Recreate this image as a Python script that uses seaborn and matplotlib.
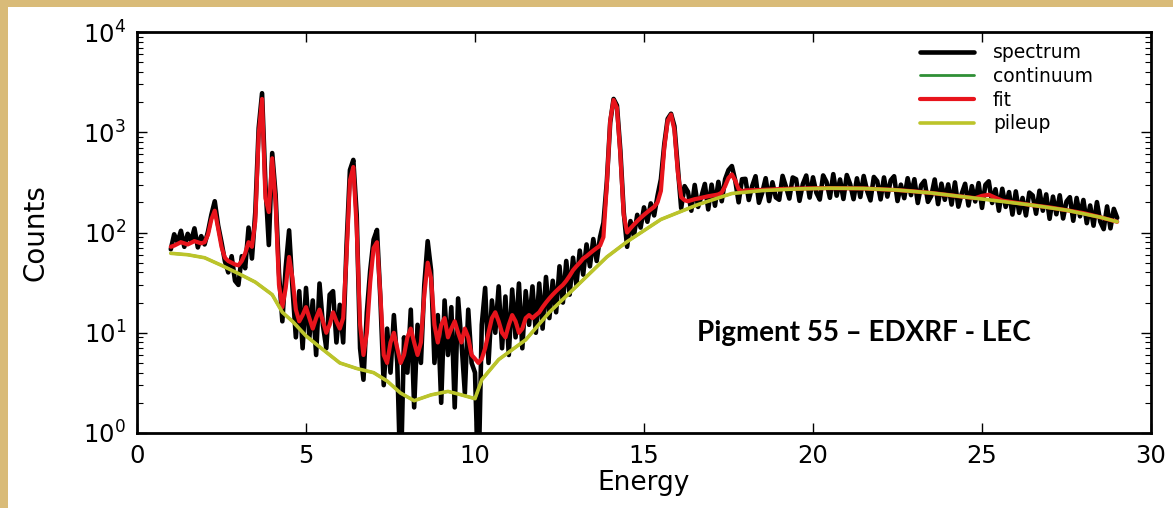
import numpy as np
import matplotlib
matplotlib.use("Agg")
import matplotlib.pyplot as plt
import seaborn as sns
from matplotlib.patches import Rectangle

# ---- measured spectrum: counts per 0.1 keV channel, 1.0 .. 29.0 keV ----
spectrum_counts = [
    68, 96, 80, 104, 72, 97, 82, 110, 71, 92,            # 1.x
    76, 102, 150, 205, 118, 80, 52, 40, 58, 33,          # 2.x
    30, 58, 44, 112, 55, 160, 1100, 2450, 300, 75,       # 3.x
    620, 240, 40, 13, 45, 105, 28, 9, 26, 7,             # 4.x
    28, 9, 21, 6, 31, 12, 7, 24, 26, 8,                  # 5.x
    19, 8, 75, 420, 530, 150, 7, 3.4, 16, 42,            # 6.x
    85, 106, 22, 3, 11, 4, 15, 5, 0.3, 9,                # 7.x
    4, 17, 1.8, 12, 5, 30, 82, 42, 5, 15,                # 8.x
    2, 21, 6, 18, 1.8, 22, 8, 2.5, 17, 5,                # 9.x
    4, 0.3, 12, 28, 5, 21, 10, 29, 7, 23,                # 10.x
    6, 27, 9, 31, 7, 26, 12, 29, 10, 31,                 # 11.x
    11, 36, 14, 33, 16, 46, 20, 52, 24, 56,              # 12.x
    30, 66, 38, 76, 46, 86, 52, 90, 125, 320,            # 13.x
    1250, 2150, 1850, 660, 160, 72, 130, 92, 150, 112,   # 14.x
    178, 128, 195, 148, 232, 340, 760, 1360, 1530, 1150, # 15.x
    450, 175, 290, 255, 165, 298, 180, 230, 305, 170,    # 16.x
    300, 185, 320, 205, 340, 420, 460, 330, 200, 340,    # 17.x
    343, 211, 290, 364, 198, 251, 348, 206, 317, 224,    # 18.x
    212, 367, 286, 218, 354, 340, 207, 305, 370, 223,    # 19.x
    355, 249, 213, 371, 319, 222, 382, 233, 338, 216,    # 20.x
    374, 303, 215, 347, 226, 366, 261, 209, 358, 325,    # 21.x
    214, 354, 228, 332, 364, 206, 300, 220, 348, 236,    # 22.x
    340, 197, 297, 328, 202, 232, 338, 192, 307, 212,    # 23.x
    302, 190, 316, 181, 244, 306, 186, 290, 204, 311,    # 24.x
    176, 299, 324, 197, 270, 165, 273, 180, 253, 151,    # 25.x
    257, 157, 221, 148, 250, 234, 154, 261, 165, 240,    # 26.x
    137, 228, 152, 235, 138, 204, 225, 131, 221, 145,    # 27.x
    211, 124, 186, 117, 201, 128, 108, 182, 110, 172,    # 28.x
    140,                                                 # 29.0
]

# ---- fitted model: fine channels 1.0 .. 17.9 keV, then a smooth tail ----
fit_fine_counts = [
    72, 74, 77, 80, 78, 76, 79, 82, 80, 78,              # 1.x
    80, 95, 135, 165, 110, 72, 56, 52, 50, 48,           # 2.x
    47, 52, 62, 80, 72, 130, 950, 2150, 220, 160,        # 3.x
    550, 200, 30, 18, 28, 57, 35, 17, 13, 15,            # 4.x
    18, 14, 11, 14, 17, 13, 10, 12, 16, 13,              # 5.x
    11, 14, 60, 330, 450, 110, 12, 6, 10, 32,            # 6.x
    70, 80, 24, 6, 5, 8, 10, 7, 5, 6,                    # 7.x
    9, 11, 8, 6, 8, 24, 50, 35, 12, 8,                   # 8.x
    12, 14, 9, 11, 13, 10, 8, 11, 9, 6,                  # 9.x
    5.5, 5, 5.5, 7, 10, 14, 16, 13, 10, 9,               # 10.x
    12, 15, 13, 10, 11, 14, 15, 14, 15, 16,              # 11.x
    18, 20, 22, 24, 26, 28, 30, 33, 37, 42,              # 12.x
    46, 50, 55, 58, 62, 66, 70, 74, 90, 300,             # 13.x
    1300, 2100, 1750, 600, 150, 100, 110, 120, 130, 140, # 14.x
    150, 160, 170, 180, 200, 260, 700, 1300, 1500, 1050, # 15.x
    400, 225, 210, 205, 210, 215, 218, 222, 226, 230,    # 16.x
    233, 236, 240, 250, 290, 350, 380, 330, 270, 258,    # 17.x
]
fit_tail_energy = [18.0, 18.5, 19.0, 19.5, 20.0, 20.5, 21.0, 21.5, 22.0, 22.5,
                   23.0, 23.5, 24.0, 24.5, 24.8, 25.0, 25.2, 25.4, 25.6, 26.0,
                   26.5, 27.0, 27.5, 28.0, 28.5, 29.0]
fit_tail_counts = [263, 266, 271, 274, 276, 277, 276, 275, 270, 265,
                   257, 248, 237, 226, 220, 232, 238, 222, 208, 198,
                   187, 178, 167, 156, 142, 128]

# ---- background models (continuum lies under the pileup curve) ----
pileup_energy = [1.0, 1.5, 2.0, 2.5, 3.0, 3.5, 4.0, 4.3, 4.6, 5.0, 5.5, 6.0,
                 6.5, 7.0, 7.4, 7.8, 8.2, 8.7, 9.2, 9.6, 10.0, 10.2, 10.7,
                 11.5, 12.2, 13.0, 13.9, 14.5, 15.5, 16.6, 17.6, 18.5, 19.5,
                 20.5, 21.5, 22.5, 23.5, 24.5, 25.5, 26.5, 27.5, 28.5, 29.0]
pileup_counts = [62, 60, 56, 47, 39, 32, 24, 16, 13, 9.3, 6.8, 5.0,
                 4.4, 4.0, 3.3, 2.5, 2.1, 2.4, 2.6, 2.4, 2.2, 3.4, 5.4,
                 8.5, 16, 29, 57, 81, 135, 190, 245, 262, 272,
                 277, 275, 265, 248, 226, 206, 187, 167, 142, 128]
continuum_energy = pileup_energy
continuum_counts = pileup_counts

x_ticks = [0, 5, 10, 15, 20, 25, 30]

# channel energies
spectrum_energy = np.round(1.0 + 0.1 * np.arange(len(spectrum_counts)), 1)
fit_energy = np.concatenate([np.round(1.0 + 0.1 * np.arange(len(fit_fine_counts)), 1),
                             fit_tail_energy])
fit_counts = list(fit_fine_counts) + list(fit_tail_counts)

sns.set_style("ticks")
plt.rcParams["font.family"] = ["DejaVu Sans"]
plt.rcParams["text.color"] = "black"
plt.rcParams["axes.labelcolor"] = "black"

W, H = 1173, 508
fig = plt.figure(figsize=(W / 100, H / 100), dpi=100)
fig.patch.set_facecolor("white")

# parchment border along top and left edges
parch = "#d9bb78"
fig.patches.append(Rectangle((0, 1 - 7 / H), 1, 7 / H, transform=fig.transFigure,
                             facecolor=parch, edgecolor="none", zorder=-10))
fig.patches.append(Rectangle((0, 0), 8 / W, 1, transform=fig.transFigure,
                             facecolor=parch, edgecolor="none", zorder=-10))

ax = fig.add_axes([137 / W, 75 / H, 1014 / W, 401 / H])
ax.set_facecolor("white")

sns.lineplot(x=spectrum_energy, y=spectrum_counts, ax=ax, color="black", lw=3.3,
             estimator=None, sort=False, label="spectrum")
sns.lineplot(x=continuum_energy, y=continuum_counts, ax=ax, color="#2f8f36", lw=2.0,
             estimator=None, sort=False, label="continuum")
sns.lineplot(x=fit_energy, y=fit_counts, ax=ax, color="#e8141c", lw=3.0,
             estimator=None, sort=False, label="fit")
sns.lineplot(x=pileup_energy, y=pileup_counts, ax=ax, color="#bcc42a", lw=2.6,
             estimator=None, sort=False, label="pileup")

ax.set_yscale("log")
ax.set_xlim(0, 30)
ax.set_ylim(1, 1e4)
ax.set_xticks(x_ticks)
ax.set_xticklabels([str(t) for t in x_ticks])

for s in ax.spines.values():
    s.set_visible(True)
    s.set_linewidth(2.0)
    s.set_color("black")

ax.tick_params(which="both", direction="in", top=True, right=True,
               colors="black", labelcolor="black")
ax.tick_params(which="major", length=7, width=1.0, labelsize=17.5, pad=8)
ax.tick_params(which="minor", length=4, width=0.8)
ax.tick_params(axis="x", which="minor", bottom=False, top=False)

ax.set_xlabel("Energy", fontsize=19, labelpad=1, color="black")
ax.set_ylabel("Counts", fontsize=20, labelpad=24, color="black")

leg = ax.legend(loc="upper left", bbox_to_anchor=(0.772, 0.972), frameon=False,
                fontsize=13.5, handlelength=2.9, handletextpad=1.0, labelspacing=0.25,
                borderpad=0, borderaxespad=0)
for t in leg.get_texts():
    t.set_color("black")

ax.text(0.552, 0.249, "Pigment 55 \u2013 EDXRF - LEC", transform=ax.transAxes,
        ha="left", va="center", fontsize=20, fontweight="bold",
        family=["Lato", "DejaVu Sans"], color="black")

fig.savefig("out.png", dpi=100, facecolor=fig.get_facecolor())
